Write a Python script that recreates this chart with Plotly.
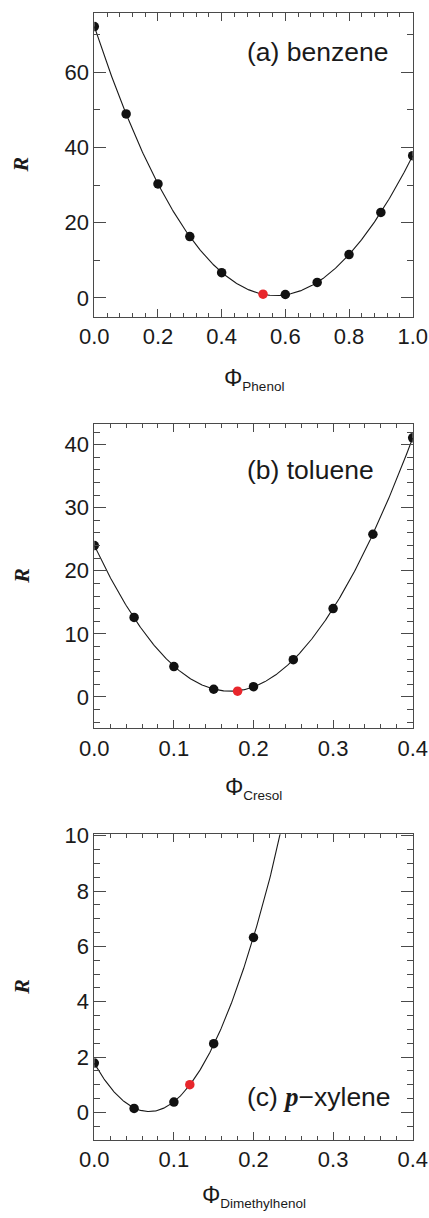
import numpy as np
import plotly.graph_objects as go

# ---- data -----------------------------------------------------------------
# (a) benzene / phenol
phi_a = [0.0, 0.1, 0.2, 0.3, 0.4, 0.6, 0.7, 0.8, 0.9, 1.0]
r_a = [72.1, 48.9, 30.3, 16.3, 6.7, 0.9, 4.1, 11.5, 22.7, 37.8]
opt_a = ([0.53], [1.0])

# (b) toluene / cresol
phi_b = [0.0, 0.05, 0.10, 0.15, 0.20, 0.25, 0.30, 0.35, 0.40]
r_b = [24.0, 12.6, 4.8, 1.2, 1.6, 5.9, 14.0, 25.8, 41.1]
opt_b = ([0.18], [0.9])

# (c) p-xylene / dimethylphenol
phi_c = [0.0, 0.05, 0.10, 0.15, 0.20]
r_c = [1.78, 0.14, 0.37, 2.48, 6.32]
opt_c = ([0.12], [1.0])

panel_labels = ["(a) benzene", "(b) toluene",
                "(c) <span style='font-family:Liberation Serif'><b><i>p</i></b></span>\u2212xylene"]
x_titles = ["Phenol", "Cresol", "Dimethylhenol"]

# ---- layout geometry (pixels) --------------------------------------------
W, H = 429, 1218
X0, X1 = 94.3, 412.7
panels = [
    dict(top=12.7, bot=316.7, xr=[0, 1.0], yr=[-5, 75.8], ydt=20, ymn=10, xdt=0.2, xmn=0.04, deg=4,
         label_y=51.7, title_y=379),
    dict(top=424.0, bot=728.3, xr=[0, 0.4], yr=[-5, 43.3], ydt=10, ymn=2, xdt=0.1, xmn=0.02, deg=4,
         label_y=470, title_y=788),
    dict(top=834.3, bot=1140.0, xr=[0, 0.4], yr=[-1, 10.05], ydt=2, ymn=0.5, xdt=0.1, xmn=0.02, deg=2,
         label_y=1096.7, title_y=1196),
]
series = [(phi_a, r_a, opt_a), (phi_b, r_b, opt_b), (phi_c, r_c, opt_c)]

FONT = "Liberation Sans"
INK = "#1a1a1a"
FRAME = "#4a4a4a"
RED = "#e8262c"

fig = go.Figure()
layout = dict(
    width=W, height=H,
    margin=dict(l=0, r=0, t=0, b=0, pad=0),
    paper_bgcolor="white", plot_bgcolor="white",
    showlegend=False,
    font=dict(family=FONT, color=INK, size=21),
)
annotations = []

for i, (p, (xs, ys, opt)) in enumerate(zip(panels, series), start=1):
    xa = "x" if i == 1 else f"x{i}"
    ya = "y" if i == 1 else f"y{i}"

    # polynomial fit of the measured points
    coef = np.polyfit(xs, ys, p["deg"])
    xf = np.linspace(p["xr"][0], p["xr"][1], 400)
    fig.add_trace(go.Scatter(x=xf, y=np.polyval(coef, xf), mode="lines",
                             line=dict(color=INK, width=1.1), xaxis=xa, yaxis=ya,
                             hoverinfo="skip"))
    fig.add_trace(go.Scatter(x=xs, y=ys, mode="markers",
                             marker=dict(color="#111111", size=9.5), xaxis=xa, yaxis=ya))
    fig.add_trace(go.Scatter(x=opt[0], y=opt[1], mode="markers",
                             marker=dict(color=RED, size=9.5), xaxis=xa, yaxis=ya))

    xdom = [X0 / W, X1 / W]
    ydom = [1 - p["bot"] / H, 1 - p["top"] / H]
    axis_common = dict(showgrid=False, zeroline=False, showline=True, linecolor=FRAME,
                       linewidth=1, mirror="ticks", ticks="inside", tickcolor=FRAME,
                       tickwidth=1, automargin=False,
                       tickfont=dict(family=FONT, size=22, color=INK))
    layout["xaxis" if i == 1 else f"xaxis{i}"] = dict(
        axis_common, domain=xdom, range=p["xr"], anchor=ya, dtick=p["xdt"], tick0=0,
        ticklen=8, tickformat=".1f", ticklabelstandoff=0,
        minor=dict(dtick=p["xmn"], tick0=0, ticks="inside", ticklen=4, tickcolor=FRAME),
    )
    layout["yaxis" if i == 1 else f"yaxis{i}"] = dict(
        axis_common, domain=ydom, range=p["yr"], anchor=xa, dtick=p["ydt"], tick0=0,
        ticklen=12, ticklabelstandoff=0,
        minor=dict(dtick=p["ymn"], tick0=0, ticks="inside", ticklen=6, tickcolor=FRAME),
    )

    # panel label
    annotations.append(dict(text=panel_labels[i - 1], xref="paper", yref="paper",
                            x=245 / W, y=1 - p["label_y"] / H, xanchor="left", yanchor="middle",
                            showarrow=False, font=dict(family=FONT, size=26.5, color=INK)))
    # y title
    annotations.append(dict(text="<b><i>R</i></b>", xref="paper", yref="paper",
                            x=20.7 / W, y=1 - (p["top"] + p["bot"]) / 2 / H,
                            xanchor="center", yanchor="middle", textangle=-90, showarrow=False,
                            font=dict(family="Liberation Serif", size=22, color=INK)))
    # x title
    annotations.append(dict(text="\u03A6<sub><span style='font-size:13.5px'>" + x_titles[i - 1]
                                 + "</span></sub>",
                            xref="paper", yref="paper",
                            x=(X0 + X1) / 2 / W, y=1 - p["title_y"] / H,
                            xanchor="center", yanchor="middle", showarrow=False,
                            font=dict(family=FONT, size=23, color=INK)))

layout["annotations"] = annotations
fig.update_layout(**layout)
fig.write_html("out.html")
